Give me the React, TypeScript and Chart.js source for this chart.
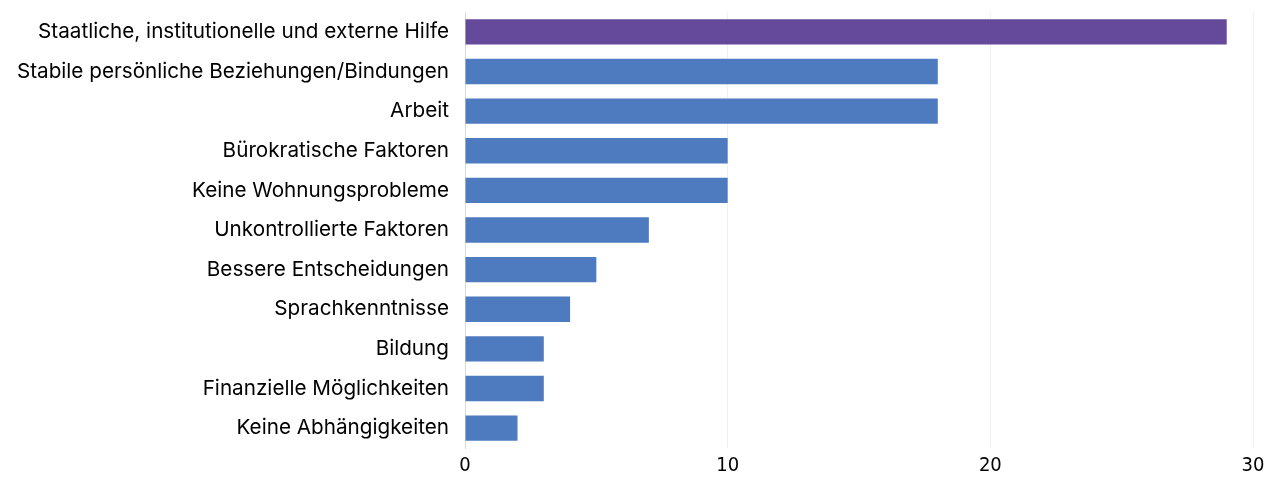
import React, { useEffect, useRef } from "react";
import { Chart, registerables } from "chart.js";

Chart.register(...registerables);

const categories = [
  "Staatliche, institutionelle und externe Hilfe",
  "Stabile persönliche Beziehungen/Bindungen",
  "Arbeit",
  "Bürokratische Faktoren",
  "Keine Wohnungsprobleme",
  "Unkontrollierte Faktoren",
  "Bessere Entscheidungen",
  "Sprachkenntnisse",
  "Bildung",
  "Finanzielle Möglichkeiten",
  "Keine Abhängigkeiten",
];

const values = [29, 18, 18, 10, 10, 7, 5, 4, 3, 3, 2];

const xTicks = [0, 10, 20, 30];

const PURPLE = "#654a9c";
const BLUE = "#4e7bc0";

export default function App() {
  const ref = useRef<HTMLCanvasElement | null>(null);

  useEffect(() => {
    if (!ref.current) return;
    const chart = new Chart(ref.current, {
      type: "bar",
      data: {
        labels: categories,
        datasets: [
          {
            data: values,
            backgroundColor: values.map((_, i) => (i === 0 ? PURPLE : BLUE)),
            borderWidth: 0,
            barPercentage: 0.64,
            categoryPercentage: 1,
          },
        ],
      },
      options: {
        indexAxis: "y",
        animation: false,
        responsive: false,
        maintainAspectRatio: false,
        layout: { padding: { left: 0, right: 28, top: 12, bottom: 0 } },
        plugins: {
          legend: { display: false },
          tooltip: { enabled: false },
        },
        scales: {
          x: {
            min: 0,
            max: 30,
            afterBuildTicks: (scale: any) => {
              scale.ticks = xTicks.map((v) => ({ value: v }));
            },
            afterFit: (scale: any) => {
              scale.height = 31;
              scale.paddingLeft = 0;
              scale.paddingRight = 0;
            },
            grid: {
              color: (ctx: any) => (ctx.tick && ctx.tick.value === 0 ? "#d9d9d9" : "#f0f0f0"),
              drawTicks: false,
            },
            border: { display: false },
            ticks: {
              color: "#000",
              padding: 6,
              font: { family: "'Liberation Sans Narrow', 'DejaVu Sans Condensed', Arial, sans-serif", size: 20 },
            },
          },
          y: {
            afterFit: (scale: any) => {
              scale.width = 465;
              scale.paddingTop = 0;
              scale.paddingBottom = 0;
            },
            grid: { display: false, drawTicks: false },
            border: { display: true, color: "#d9d9d9", width: 1 },
            ticks: {
              color: "#000",
              padding: 16,
              autoSkip: false,
              font: { family: "Inter, 'Liberation Sans', Arial, sans-serif", size: 20.7 },
            },
          },
        },
      },
    });
    return () => chart.destroy();
  }, []);

  return (
    <div style={{ position: "fixed", left: 0, top: 0, width: 1281, height: 479, background: "#fff" }}>
      <canvas ref={ref} width={1281} height={479} style={{ width: 1281, height: 479 }} />
    </div>
  );
}
